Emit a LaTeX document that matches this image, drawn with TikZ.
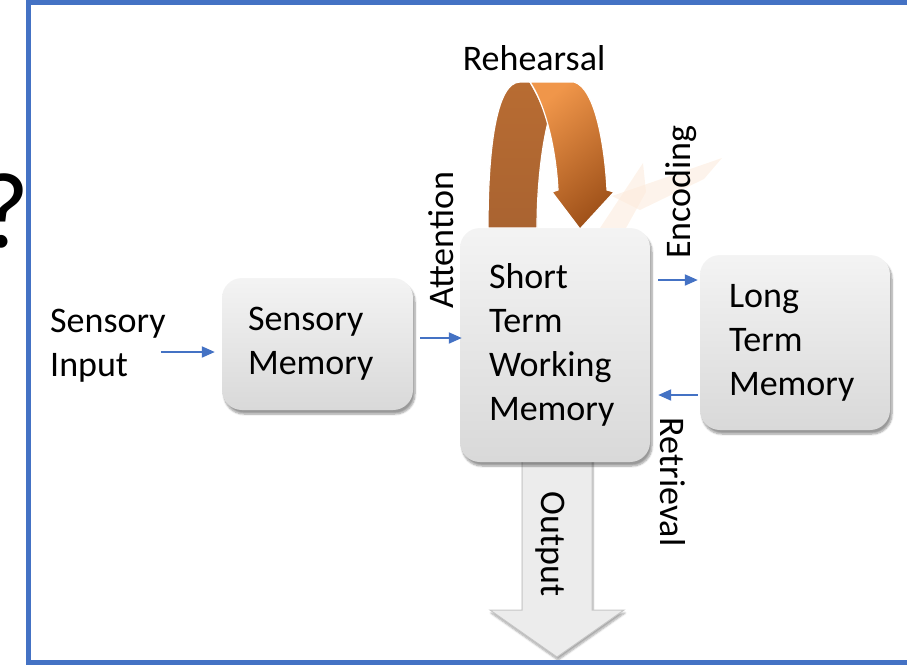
\documentclass[tikz,border=0pt]{standalone}
\usepackage{fontspec}
\setmainfont{Carlito}
\usepackage{xcolor}
\definecolor{mblue}{RGB}{68,114,196}
\definecolor{rhlight}{RGB}{240,150,74}
\definecolor{rhdark}{RGB}{160,82,26}
\definecolor{rhback}{RGB}{184,108,50}
\usepackage{tikz}
\usetikzlibrary{arrows.meta,shadows.blur,calc}

\begin{document}
\begin{tikzpicture}[x=1pt,y=-1pt,
  font=\fontsize{36}{44}\selectfont,
  mem/.style={rounded corners=20pt,top color=gray!9,bottom color=gray!30,
    align=left,inner ysep=0pt,
    blur shadow={shadow xshift=2pt,shadow yshift=-4pt,shadow blur steps=8,shadow opacity=40}},
  flow/.style={-{Triangle[length=13pt,width=11pt]},mblue,line width=2pt},
  lbl/.style={inner sep=0pt}]
  \clip (0,0) rectangle (907,665);

  % question mark peeking in from the left
  \node[lbl,anchor=base east,font=\fontsize{108}{110}\selectfont](qmark) at (30,247){?};

  % faint reflection behind the loop
  \fill[rhlight!20,opacity=.55] (600,228) -- (643,163) -- (646,192) -- (626,228) -- cycle;
  \fill[rhlight!20,opacity=.55] (612,196) -- (722,158) -- (704,179) -- (640,210) -- cycle;

  % rehearsal loop
  \shade[top color=rhback,bottom color=rhdark!90,draw=white,line width=1.2pt]
    (488,228) .. controls (488,150) and (496,82) .. (520,82) -- (530,82)
    .. controls (538,96) and (545,110) .. (548,122)
    .. controls (541,150) and (537,190) .. (537,228) -- cycle;
  \shade[top color=rhlight,bottom color=rhdark,shading angle=40,draw=white,line width=1.2pt]
    (530,82) -- (574,82) .. controls (596,88) and (605,150) .. (607,190)
    -- (614,192) -- (580,229) -- (552,192) -- (558,190)
    .. controls (556,150) and (546,106) .. (530,82) -- cycle;

  % output block arrow
  \filldraw[fill=gray!15,draw=gray!45,line width=1pt,
    blur shadow={shadow xshift=1pt,shadow yshift=-3pt,shadow blur steps=6,shadow opacity=35}]
    (522,455) -- (592,455) -- (592,610) -- (624,610) -- (557,657) -- (490,610)
    -- (522,610) -- cycle;

  \node[mem,text width=139pt,inner xsep=26pt,minimum height=132pt](sensory) at (317.5,344)
    {Sensory\\Memory};
  \node[mem,text width=132pt,inner xsep=29pt,minimum height=234pt](stm) at (555,345)
    {Short\\Term\\Working\\Memory};
  \node[mem,text width=132pt,inner xsep=29pt,minimum height=175pt](ltm) at (795,342.5)
    {Long\\Term\\Memory};
  \node[lbl,anchor=west,align=left](input) at (50,346){Sensory\\Input};

  % labels along the flows
  \node[lbl](rehearsal) at (534,58){Rehearsal};
  \node[lbl,rotate=90](attention) at (441,240){Attention};
  \node[lbl,rotate=90](encoding) at (681,192){Encoding};
  \node[lbl,rotate=-90](retrieval) at (673,482){Retrieval};
  \node[lbl,rotate=-90](output) at (550,544){Output};

  \draw[flow]([shift={(-5,6)}]input.east) -- ([shift={(-7,8)}]sensory.west);
  \draw[flow]([shift={(7,-6)}]sensory.east) -- ([shift={(2,-7)}]stm.west);
  \draw[flow]([shift={(8,-65)}]stm.east) -- ([shift={(-2,-62.5)}]ltm.west);
  \draw[flow]([shift={(-2,52.5)}]ltm.west) -- ([shift={(8,50)}]stm.east);

  % frame
  \draw[mblue,line width=5pt](28,2) rectangle (940,662);
\end{tikzpicture}
\end{document}
